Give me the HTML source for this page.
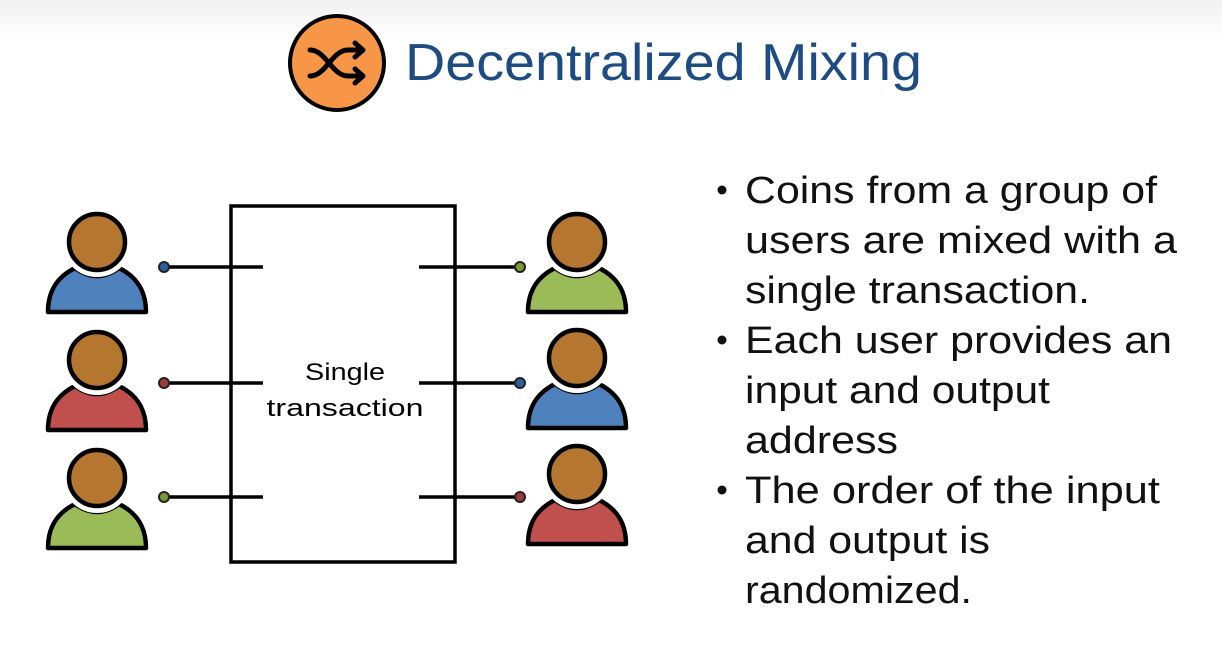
<!DOCTYPE html>
<html><head><style>
html,body{margin:0;padding:0;background:#fff;}
svg{display:block;}
text{font-family:"Liberation Sans",sans-serif;}
</style></head><body>
<svg width="1222" height="664" viewBox="0 0 1222 664">
<defs>
<linearGradient id="bg" x1="0" y1="0" x2="0" y2="1">
<stop offset="0" stop-color="#f0f0f0"/><stop offset="1" stop-color="#ffffff"/>
</linearGradient>
<g id="head">
<circle cx="0" cy="0" r="28" fill="none" stroke="#fff" stroke-width="14"/>
<circle cx="0" cy="0" r="28" fill="#b5772f" stroke="#000" stroke-width="4.5"/>
</g>
</defs>
<rect width="1222" height="664" fill="#fff"/>
<rect width="1222" height="40" fill="url(#bg)"/>

<!-- icon -->
<circle cx="337" cy="63" r="47" fill="#f79646" stroke="#000" stroke-width="4"/>
<g fill="none" stroke="#000" stroke-width="5" stroke-linecap="round" stroke-linejoin="round">
<path d="M310,50 C326,50 332,76 348,76 L362,76"/>
<path d="M310,76 C326,76 332,50 348,50 L362,50"/>
<path d="M355,43 L363,50 L355,57"/>
<path d="M355,69 L363,76 L355,83"/>
</g>
<text x="405" y="80" font-size="52" fill="#1d4b82" textLength="517" lengthAdjust="spacingAndGlyphs">Decentralized Mixing</text>

<!-- box -->
<rect x="231" y="206" width="224" height="356" fill="none" stroke="#000" stroke-width="3.5"/>
<text x="345" y="380" font-size="24" text-anchor="middle" fill="#000" textLength="80" lengthAdjust="spacingAndGlyphs">Single</text>
<text x="345" y="416" font-size="24" text-anchor="middle" fill="#000" textLength="157" lengthAdjust="spacingAndGlyphs">transaction</text>

<g stroke="#000" stroke-width="3.5">
<line x1="164" y1="267" x2="263" y2="267"/>
<line x1="164" y1="383" x2="263" y2="383"/>
<line x1="164" y1="497" x2="263" y2="497"/>
<line x1="419" y1="267" x2="520" y2="267"/>
<line x1="419" y1="383" x2="520" y2="383"/>
<line x1="419" y1="497" x2="520" y2="497"/>
</g>
<g stroke="#222" stroke-width="2">
<circle cx="164" cy="267" r="5" fill="#2f5f9e"/>
<circle cx="164" cy="383" r="5" fill="#a0393a"/>
<circle cx="164" cy="497" r="5" fill="#7a9a3a"/>
<circle cx="520" cy="267" r="5" fill="#7a9a3a"/>
<circle cx="520" cy="383" r="5" fill="#2f5f9e"/>
<circle cx="520" cy="497" r="5" fill="#a0393a"/>
</g>

<!-- persons -->
<g stroke="#000" stroke-width="4.5" stroke-linejoin="round">
<g transform="translate(97,242)"><path d="M-49,70 C-49,45 -36,33 -22,26 Q0,42 22,26 C36,33 49,45 49,70 Z" fill="#4f81bd"/><use href="#head"/></g>
<g transform="translate(97,360)"><path d="M-49,70 C-49,45 -36,33 -22,26 Q0,42 22,26 C36,33 49,45 49,70 Z" fill="#c0504d"/><use href="#head"/></g>
<g transform="translate(97,478)"><path d="M-49,70 C-49,45 -36,33 -22,26 Q0,42 22,26 C36,33 49,45 49,70 Z" fill="#9bbb59"/><use href="#head"/></g>
<g transform="translate(577,242)"><path d="M-49,70 C-49,45 -36,33 -22,26 Q0,42 22,26 C36,33 49,45 49,70 Z" fill="#9bbb59"/><use href="#head"/></g>
<g transform="translate(577,358)"><path d="M-49,70 C-49,45 -36,33 -22,26 Q0,42 22,26 C36,33 49,45 49,70 Z" fill="#4f81bd"/><use href="#head"/></g>
<g transform="translate(577,474)"><path d="M-49,70 C-49,45 -36,33 -22,26 Q0,42 22,26 C36,33 49,45 49,70 Z" fill="#c0504d"/><use href="#head"/></g>
</g>

<!-- bullets -->
<g fill="#111">
<circle cx="722" cy="190" r="4.5"/>
<circle cx="722" cy="340" r="4.5"/>
<circle cx="722" cy="490" r="4.5"/>
</g>
<g font-size="38" fill="#111">
<text x="745" y="203" textLength="412" lengthAdjust="spacingAndGlyphs">Coins from a group of</text>
<text x="745" y="253" textLength="432" lengthAdjust="spacingAndGlyphs">users are mixed with a</text>
<text x="745" y="303" textLength="345" lengthAdjust="spacingAndGlyphs">single transaction.</text>
<text x="745" y="353" textLength="427" lengthAdjust="spacingAndGlyphs">Each user provides an</text>
<text x="745" y="403" textLength="305" lengthAdjust="spacingAndGlyphs">input and output</text>
<text x="745" y="453" textLength="153" lengthAdjust="spacingAndGlyphs">address</text>
<text x="745" y="503" textLength="415" lengthAdjust="spacingAndGlyphs">The order of the input</text>
<text x="745" y="553" textLength="245" lengthAdjust="spacingAndGlyphs">and output is</text>
<text x="745" y="603" textLength="227" lengthAdjust="spacingAndGlyphs">randomized.</text>
</g>
</svg>
</body></html>
